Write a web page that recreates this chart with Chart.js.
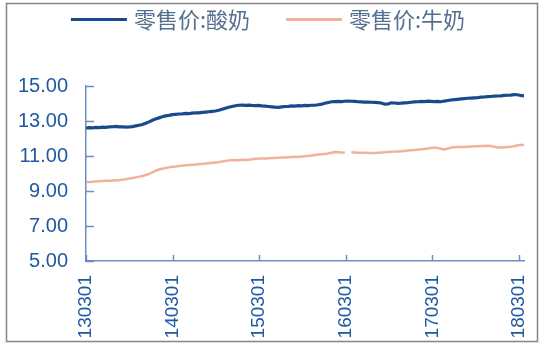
<!DOCTYPE html>
<html><head><meta charset="utf-8">
<script src="https://cdn.jsdelivr.net/npm/chart.js@4.4.1/dist/chart.umd.min.js"></script>
<style>html,body{margin:0;padding:0;background:#fff;}#wrap{width:545px;height:345px;position:relative}</style>
</head><body><div id="wrap"><canvas id="c" width="545" height="345"></canvas></div>
<script>
const seriesNames = ['零售价:酸奶', '零售价:牛奶'];
const startDate = '2013-03-01';
const stepDays = 14;
const tickLabels = ['130301', '140301', '150301', '160301', '170301', '180301'];
const yMin = 5, yMax = 15, yStep = 2;

// 酸奶 (yogurt) retail price, biweekly readings
const yogurt = [
12.60,12.62,12.61,12.63,12.62,12.65,12.64,12.66,12.67,12.69,
12.66,12.67,12.65,12.66,12.68,12.72,12.76,12.80,12.87,12.95,
13.04,13.12,13.18,13.24,13.29,13.32,13.36,13.38,13.40,13.41,
13.43,13.42,13.45,13.47,13.46,13.49,13.51,13.53,13.55,13.57,
13.61,13.67,13.73,13.79,13.83,13.87,13.90,13.91,13.89,13.91,
13.89,13.88,13.89,13.86,13.85,13.83,13.81,13.79,13.78,13.81,
13.83,13.84,13.86,13.85,13.88,13.87,13.89,13.88,13.90,13.90,
13.93,13.96,14.01,14.06,14.10,14.11,14.12,14.11,14.13,14.14,
14.13,14.12,14.10,14.09,14.08,14.08,14.07,14.06,14.05,14.03,
13.96,13.97,14.04,14.03,14.01,14.02,14.04,14.05,14.07,14.09,
14.10,14.12,14.11,14.13,14.12,14.11,14.12,14.10,14.14,14.17,
14.20,14.22,14.24,14.26,14.28,14.30,14.31,14.32,14.33,14.36,
14.37,14.39,14.40,14.42,14.43,14.44,14.46,14.47,14.48,14.51,
14.50,14.46,14.44
];

// 牛奶 (milk) retail price, biweekly readings
const milk = [
9.51,9.52,9.53,9.55,9.56,9.57,9.58,9.59,9.60,9.61,
9.62,9.65,9.67,9.71,9.74,9.78,9.82,9.86,9.91,9.98,
10.07,10.16,10.23,10.27,10.31,10.35,10.38,10.40,10.43,10.45,
10.47,10.48,10.50,10.51,10.53,10.55,10.57,10.59,10.61,10.63,
10.65,10.68,10.72,10.75,10.76,10.77,10.76,10.78,10.77,10.79,
10.81,10.84,10.85,10.86,10.86,10.87,10.88,10.88,10.90,10.91,
10.92,10.93,10.94,10.95,10.96,10.97,10.99,11.01,11.03,11.06,
11.08,11.10,11.12,11.14,11.19,11.23,11.22,11.20,11.19,null,
11.21,11.20,11.19,11.19,11.18,11.17,11.17,11.17,11.19,11.20,
11.21,11.23,11.24,11.25,11.26,11.27,11.29,11.31,11.33,11.34,
11.36,11.38,11.40,11.43,11.46,11.48,11.45,11.41,11.38,11.43,
11.47,11.50,11.51,11.52,11.52,11.53,11.54,11.55,11.56,11.57,
11.57,11.58,11.57,11.53,11.49,11.48,11.50,11.51,11.53,11.56,
11.60,11.64,11.62
];

const colors = { yogurt: '#184a8c', milk: '#f1b19b', axis: '#6b8fc0', tick: '#1f5aa0', legend: '#55708f', frame: '#858585' };

const DAY = 86400000;
const t0 = Date.parse(startDate + 'T00:00:00Z');
const tickDays = tickLabels.map(s => (Date.UTC(2000 + +s.slice(0, 2), +s.slice(2, 4) - 1, +s.slice(4, 6)) - t0) / DAY);
const toPoints = arr => arr.map((v, i) => ({ x: i * stepDays, y: v }));

const frame = {
  id: 'frame',
  beforeDraw(chart) {
    const ctx = chart.ctx;
    ctx.save();
    ctx.fillStyle = '#fff';
    ctx.fillRect(0, 0, chart.width, chart.height);
    ctx.strokeStyle = colors.frame;
    ctx.lineWidth = 1.5;
    ctx.strokeRect(6.5, 3.5, 531, 338);
    ctx.restore();
  }
};

const innerTicks = {
  id: 'innerTicks',
  afterDraw(chart) {
    const { ctx, chartArea, scales } = chart;
    ctx.save();
    ctx.strokeStyle = colors.axis;
    ctx.lineWidth = 1.5;
    ctx.beginPath();
    scales.y.ticks.forEach(t => {
      const py = Math.round(scales.y.getPixelForValue(t.value)) + 0.5;
      ctx.moveTo(chartArea.left, py); ctx.lineTo(chartArea.left + 8, py);
    });
    tickDays.forEach(d => {
      const px = Math.round(scales.x.getPixelForValue(d)) + 0.5;
      ctx.moveTo(px, chartArea.bottom); ctx.lineTo(px, chartArea.bottom - 6);
    });
    ctx.stroke();
    ctx.restore();
  }
};

const legendDraw = {
  id: 'legendDraw',
  afterDraw(chart) {
    const ctx = chart.ctx;
    ctx.save();
    ctx.font = '22px "Noto Sans CJK SC"';
    ctx.textBaseline = 'middle';
    const sample = 56, gapT = 7, gapI = 36, cy = 19, cx = 268;
    const ds = chart.data.datasets;
    const widths = ds.map(d => ctx.measureText(d.label).width);
    const total = ds.length * (sample + gapT) + widths.reduce((a, b) => a + b, 0) + gapI * (ds.length - 1);
    let x = cx - total / 2;
    ds.forEach((d, i) => {
      ctx.strokeStyle = d.borderColor;
      ctx.lineWidth = 3;
      ctx.beginPath(); ctx.moveTo(x, cy + 0.5); ctx.lineTo(x + sample, cy + 0.5); ctx.stroke();
      ctx.fillStyle = colors.legend;
      ctx.fillText(d.label, x + sample + gapT, cy + 1);
      x += sample + gapT + widths[i] + gapI;
    });
    ctx.restore();
  }
};

new Chart(document.getElementById('c'), {
  type: 'line',
  data: {
    datasets: [
      { label: seriesNames[0], data: toPoints(yogurt), borderColor: colors.yogurt, borderWidth: 3.2, pointRadius: 0, tension: 0 },
      { label: seriesNames[1], data: toPoints(milk), borderColor: colors.milk, borderWidth: 2.5, pointRadius: 0, tension: 0, spanGaps: false }
    ]
  },
  options: {
    responsive: false,
    animation: false,
    layout: { padding: { left: 0, right: 21, top: 86, bottom: 0 } },
    plugins: { legend: { display: false }, tooltip: { enabled: false } },
    scales: {
      x: {
        type: 'linear',
        min: 0,
        max: (yogurt.length - 1) * stepDays,
        afterBuildTicks: s => { s.ticks = tickDays.map(v => ({ value: v })); },
        afterFit: s => { s.height = 84; s.paddingLeft = 0; s.paddingRight = 0; },
        ticks: {
          autoSkip: false, maxRotation: 90, minRotation: 90, padding: 14,
          color: colors.tick, font: { size: 19, family: '"Liberation Sans", Arial, sans-serif' },
          callback: v => { const k = tickDays.indexOf(v); return k >= 0 ? tickLabels[k] : ''; }
        },
        grid: { drawOnChartArea: false, drawTicks: false },
        border: { display: true, color: colors.axis, width: 1.5 }
      },
      y: {
        min: yMin, max: yMax,
        afterFit: s => { s.width = 86; s.paddingTop = 0; s.paddingBottom = 0; },
        ticks: {
          stepSize: yStep, padding: 18,
          color: colors.tick, font: { size: 20, family: '"Liberation Sans", Arial, sans-serif' },
          callback: v => Number(v).toFixed(2)
        },
        grid: { drawOnChartArea: false, drawTicks: false },
        border: { display: true, color: colors.axis, width: 1.5 }
      }
    }
  },
  plugins: [frame, innerTicks, legendDraw]
});
</script></body></html>
